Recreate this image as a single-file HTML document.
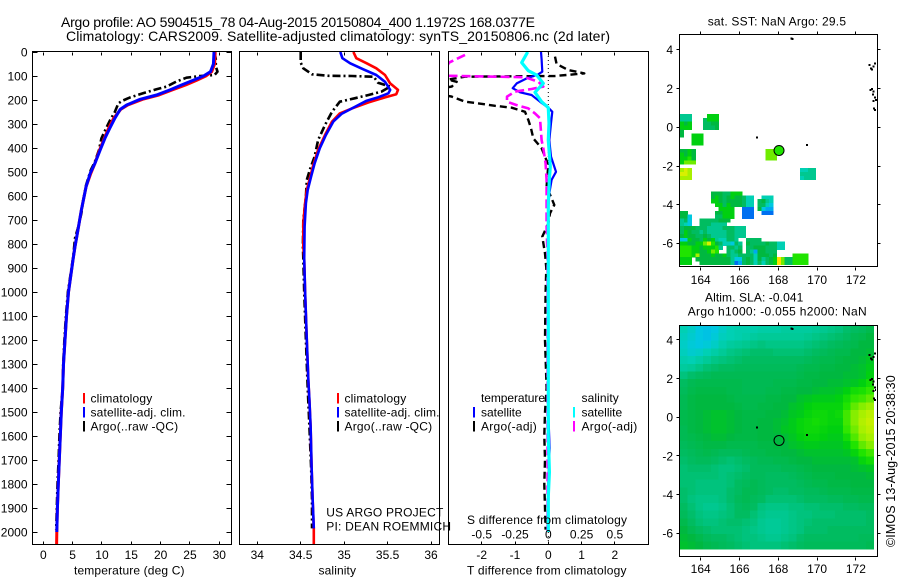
<!DOCTYPE html>
<html lang="en">
<head>
<meta charset="utf-8">
<title>Argo profile 5904515_78</title>
<style>
html,body{margin:0;padding:0;background:#fff;}
svg{display:block;font-family:"Liberation Sans",sans-serif;font-size:12px;fill:#000;}
.frame{fill:none;stroke:#000;stroke-width:1;shape-rendering:crispEdges;}
.line{fill:none;stroke-linejoin:round;}
.mk{shape-rendering:crispEdges;}
</style>
</head>
<body>
<svg id="chart" width="900" height="580" viewBox="0 0 900 580" xmlns="http://www.w3.org/2000/svg">
<defs>
<clipPath id="clip1"><rect x="32.5" y="52" width="199" height="493"/></clipPath>
<clipPath id="clip2"><rect x="239.5" y="52" width="200" height="493"/></clipPath>
<clipPath id="clip3"><rect x="448.5" y="52" width="200" height="493"/></clipPath>
<clipPath id="clipM1"><rect x="679.5" y="34.5" width="198" height="232.5"/></clipPath>
<clipPath id="clipM2"><rect x="679.5" y="325.5" width="196.5" height="229.5"/></clipPath>
</defs>

<text x="61" y="27" font-size="14" textLength="474">Argo profile: AO 5904515_78 04-Aug-2015 20150804_400 1.1972S 168.0377E</text>
<text x="66" y="41" font-size="14" textLength="544">Climatology: CARS2009. Satellite-adjusted climatology: synTS_20150806.nc (2d later)</text>

<g id="heat1" clip-path="url(#clipM1)"></g>
<g id="heat2" clip-path="url(#clipM2)"></g>

<g id="marks1" clip-path="url(#clip1)"></g>
<g id="marks2" clip-path="url(#clip2)"></g>
<g id="marks3" clip-path="url(#clip3)"></g>
<g id="ticks"></g>

<rect class="frame" x="32.5" y="51.5" width="199" height="493"/>
<rect class="frame" x="239.5" y="51.5" width="200" height="493"/>
<rect class="frame" x="448.5" y="51.5" width="200" height="493"/>
<rect class="frame" x="679.5" y="34.5" width="198" height="232"/>
<rect class="frame" x="679.5" y="325.5" width="198" height="231"/>

<text x="74" y="574.5" textLength="110.5">temperature (deg C)</text>
<text x="318.5" y="574.5" textLength="37.5">salinity</text>
<text x="467" y="574.5" textLength="159.5">T difference from climatology</text>
<text x="467" y="524" textLength="160">S difference from climatology</text>

<g>
<rect class="mk" x="83" y="393" width="2" height="10.5" fill="#f00"/>
<rect class="mk" x="83" y="407" width="2" height="10.5" fill="#00f"/>
<rect class="mk" x="83" y="421" width="2" height="10.5" fill="#000"/>
<text x="90.5" y="402.5" textLength="61.7">climatology</text>
<text x="90.5" y="416.5" textLength="95">satellite-adj. clim.</text>
<text x="90.5" y="430.5" textLength="87.6">Argo(..raw -QC)</text>
</g>
<g>
<rect class="mk" x="337" y="393" width="2" height="10.5" fill="#f00"/>
<rect class="mk" x="337" y="407" width="2" height="10.5" fill="#00f"/>
<rect class="mk" x="337" y="421" width="2" height="10.5" fill="#000"/>
<text x="344.5" y="402.5" textLength="61.7">climatology</text>
<text x="344.5" y="416.5" textLength="95">satellite-adj. clim.</text>
<text x="344.5" y="430.5" textLength="87.6">Argo(..raw -QC)</text>
</g>
<text x="326.3" y="516.5" textLength="117">US ARGO PROJECT</text>
<text x="326.3" y="530.5" textLength="124.7">PI: DEAN ROEMMICH</text>

<g>
<text x="481" y="402" textLength="64">temperature</text>
<rect class="mk" x="473" y="407" width="2" height="10.5" fill="#00f"/>
<rect class="mk" x="473" y="421" width="2" height="10.5" fill="#000"/>
<text x="481" y="416.5" textLength="40.7">satellite</text>
<text x="481" y="430.5" textLength="55.7">Argo(-adj)</text>
<text x="581.5" y="402" textLength="37.3">salinity</text>
<rect class="mk" x="573" y="407" width="2" height="10.5" fill="#0ff"/>
<rect class="mk" x="573" y="421" width="2" height="10.5" fill="#f0f"/>
<text x="581.5" y="416.5" textLength="40.7">satellite</text>
<text x="581.5" y="430.5" textLength="55.7">Argo(-adj)</text>
</g>

<text x="707.7" y="25.5" textLength="138.3">sat. SST: NaN Argo: 29.5</text>
<text x="705" y="301.5" textLength="98.3">Altim. SLA: -0.041</text>
<text x="687.7" y="315.5" textLength="179">Argo h1000: -0.055 h2000: NaN</text>
<text transform="translate(895,547) rotate(-90)" font-size="12.5" textLength="171.7">©IMOS 13-Aug-2015 20:38:30</text>
</svg>

<script>
// ---- temperature panel data (deg C vs depth m)
const tempClimDepth = [0,50,82,100,117,137,158,179,197,221,239,276,314,360,408,464,506,561,658,728,811,860,1000,1100,1200,1300,1400,1500,1600,1700,1800,1900,2000,2054];
const tempClim = [29.3,29.2,28.7,27.7,26.2,24.3,22,19.7,16.9,14.4,13.2,12,11.2,10.4,9.6,8.8,8.1,7.3,6.5,6,5.4,5.1,4.3,3.95,3.7,3.45,3.3,3.07,2.9,2.72,2.55,2.4,2.3,2.27];
const tempSatDepth = [0,50,82,100,117,137,158,179,197,221,239,276,314,360,408,464,506,561,658,728,811,860,1000,1100,1200,1300,1400,1500,1600,1700,1800,1900,2000];
const tempSat = [29.1,29,28.5,27.3,25.6,23.6,21.6,19.3,16.5,14.2,13.1,12.2,11.4,10.5,9.7,8.8,8,7.3,6.5,6,5.4,5.1,4.3,3.95,3.7,3.45,3.3,3.07,2.9,2.72,2.55,2.4,2.3];
const tempArgoDepth = [0,30,60,82,96,100,107,123,144,155,172,189,204,214,249,283,318,360,408,457,492,554,617,672,728,776,853,1000,1100,1200,1300,1400,1500,1600,1700,1800,1900,1990];
const tempArgo = [29.2,29.4,29.4,29.7,29.2,26.7,24.4,22.7,21,19.3,17,14.8,13.4,12.8,12.2,11.4,10.7,9.9,9.5,8.8,8.1,7.3,6.8,6.5,5.97,5.4,5.1,4.2,3.85,3.6,3.4,3.3,2.95,2.75,2.6,2.42,2.3,2.2];
// ---- salinity panel data (psu vs depth m)
const salClimDepth = [0,26,47,68,96,131,158,176,189,210,235,256,290,346,408,471,519,575,630,714,811,860,1000,1200,1365,1450,1560,1730,1860,1985,2054];
const salClim = [35.106,35.14,35.26,35.37,35.47,35.53,35.62,35.6,35.47,35.28,35.09,34.95,34.86,34.78,34.7,34.645,34.61,34.57,34.55,34.53,34.53,34.54,34.55,34.57,34.587,34.6,34.614,34.625,34.637,34.65,34.65];
const salSatDepth = [0,26,47,72,96,124,158,172,189,203,235,258,290,346,401,464,519,575,630,728,860,1000,1200,1365,1450,1560,1730,1860,1985];
const salSat = [34.956,34.98,35.07,35.22,35.37,35.47,35.53,35.51,35.39,35.26,35.09,34.97,34.875,34.79,34.72,34.66,34.62,34.58,34.56,34.545,34.54,34.55,34.57,34.587,34.6,34.614,34.625,34.637,34.65];
const salArgoDepth = [0,44,68,93,99,100,103,128,144,165,179,193,207,249,304,367,436,485,533,603,700,811,860,1000,1200,1400,1560,1730,1860,1985];
const salArgo = [34.5,34.5,34.53,34.63,34.82,35.09,35.34,35.39,35.53,35.43,35.28,35.12,34.95,34.86,34.78,34.7,34.66,34.61,34.57,34.56,34.53,34.525,34.53,34.54,34.56,34.58,34.6,34.62,34.63,34.63];
// ---- difference panel data
const dTSatDepth = [0,30,82,93,110,131,151,168,179,207,232,249,297,367,436,499,533,589,650,1000,1500,1650,1800,2000];
const dTSat = [-0.22,-0.2,-0.18,-0.3,-0.65,-0.95,-1.07,-0.85,-0.5,-0.25,0,0.12,0.08,0.03,0.08,0.23,0.1,0.03,0,0,0,0.04,0,0];
const dTArgoDepth = [19,50,75,89,92,100,101,103,115,124,144,160,178,186,207,214,224,232,249,283,318,360,401,436,471,561,610,637,672,715,769,839,900,1000,1200,1400,1500,1600,1700,1800,1900,1990];
const dTArgo = [0.2,0.25,0.6,1.08,0.85,0.2,-0.6,-2.5,-3,-2.75,-2.9,-3.6,-3.2,-2.9,-2.5,-2.1,-1.6,-1.1,-0.7,-0.6,-0.52,-0.45,-0.2,-0.1,0,-0.05,0.1,0.18,0.05,0,-0.18,-0.1,-0.06,-0.08,-0.1,-0.05,-0.1,-0.12,-0.1,-0.12,-0.1,-0.08];
const dSSatDepth = [0,44,78,96,131,168,207,232,297,367,478,533,630,1000,1600,1750,1850,2000];
const dSSat = [-0.155,-0.2,-0.15,-0.0875,-0.0375,-0.1,-0.05,0,0.005,0,0.015,0.0075,0,0,0,0.008,0,0];
const dSArgoDepth = [12,44,96,99,105,124,144,154,165,186,207,221,235,256,276,367,401,464,533,630,728,860,1200,2000];
const dSArgo = [-0.625,-0.745,-0.8,-0.75,-0.175,-0.075,-0.0375,-0.125,-0.25,-0.31,-0.31,-0.24,-0.15,-0.1,-0.0625,-0.05,-0.0375,-0.02,-0.0125,-0.0125,-0.0125,-0.005,-0.005,-0.005];
// ---- tick values
const depthTicks = [0,100,200,300,400,500,600,700,800,900,1000,1100,1200,1300,1400,1500,1600,1700,1800,1900,2000];
const tempTicks = [0,5,10,15,20,25,30];
const salTicks = [34,34.5,35,35.5,36];
const dTTicks = [-2,-1,0,1,2];
const dSTicks = [-0.5,-0.25,0,0.25,0.5];
const lonTicks = [164,166,168,170,172];
const latTicks = [4,2,0,-2,-4,-6];
// ---- profile position
const argoLon = [168.0377];
const argoLat = [-1.1972];
const satSstAtArgo = [8];
// ---- small islands
const landLon = [168.69,168.74,166.89,169.49,172.69,172.78,172.9,172.98,172.84,172.76,172.9,172.98,172.9,173.04,172.93,172.98,172.82,172.88];
const landLat = [4.6,4.56,-0.54,-0.91,3.22,3.05,3.13,3.31,3.0,1.93,1.84,1.55,1.37,1.41,0.98,0.89,1.98,1.7];
// ---- SST map: colour level per 0.2 degree cell, rows from the north, null where cloudy
const _ = null;
const sstRows = [
[4,4,4,_,_,_,_,7,7,7],
[4,4,4,_,_,_,5,7,7,7],
[7,6,7,_,_,_,5,5,6,6],
[7,7,7,_,_,_,5,5,5,6],
[6],
[6,_,_,7,7,7],
[_,_,_,7,7,7],
[_,_,_,7,7,7],
[],
[6,6,7,6,_,_,_,_,_,_,_,_,_,_,_,_,_,_,_,_,_,_,9,9,9],
[7,6,7,6,_,_,_,_,_,_,_,_,_,_,_,_,_,_,_,_,_,_,9,9,9],
[7,7,8,6,_,_,_,_,_,_,_,_,_,_,_,_,_,_,_,_,_,_,9,9,9],
[7,9,9,9],
[],
[10,11,10,_,_,_,_,_,_,_,_,_,_,_,_,_,_,_,_,_,_,_,_,_,_,_,_,_,_,_,_,3,3,4,4],
[11,11,10,_,_,_,_,_,_,_,_,_,_,_,_,_,_,_,_,_,_,_,_,_,_,_,_,_,_,_,_,4,4,4,4],
[10,10,10,_,_,_,_,_,_,_,_,_,_,_,_,_,_,_,_,_,_,_,_,_,_,_,_,_,_,_,_,3,4,4,4],
[],
[],
[],
[_,_,_,_,_,_,_,_,6,6,6,5,5,7,7,7],
[_,_,_,_,_,_,_,_,6,7,6,5,6,7,6,6,5,3,3,_,_,3,3,3],
[_,_,_,_,_,_,_,_,7,7,6,5,6,6,6,6,5,3,3,_,5,6,4,3],
[_,_,_,_,_,_,_,_,_,7,7,5,7,6,6,6,5,3,3,_,5,5,3,2],
[_,_,_,_,_,_,_,_,_,_,7,7,7,7,_,_,0,0,0,_,6,2,1,1],
[6,6,_,_,_,_,_,_,_,6,6,7,7,7,_,_,0,0,0,_,_,0,0,0],
[6,6,2,_,_,_,_,_,_,5,5,7,7,7,_,_,0,0,0],
[4,5,2,_,_,5,5,5,5,5,6,6,6],
[4,3,2,_,_,5,5,5,4,4,4,4],
[5,6,6,6,5,5,5,4,4,4,4,5,5,5,4,4,4],
[5,7,6,5,5,4,5,4,4,4,4,4,5,5,4,4,4],
[6,7,6,6,5,5,6,5,4,4,4,4,5,5,4,4,4],
[2,2,7,6,6,5,7,6,7,4,3,3,5,5,4,_,_,5,5,5,5],
[7,7,6,6,7,7,9,11,8,6,5,3,3,2,5,4,_,6,5,5,5,5,6,5,5,3,3],
[8,8,8,7,7,6,7,7,7,8,4,_,5,5,4,5,_,5,5,6,6,6,5,5,5,3,3],
[8,8,8,7,7,6,6,7,9,8,_,_,5,4,5,6,_,5,4,1,6,6,5,5,5],
[8,8,8,7,10,6,6,6,7,6,6,7,5,4,4,5,5,5,5,3,6,6,6,5,6,_,_,_,_,8,8,8,8],
[7,7,7,_,6,6,6,6,6,6,6,6,6,4,2,2,5,6,5,3,6,4,5,6,7,12,9,5,5,8,8,8,8],
[7,7,7,_,_,6,6,6,6,6,6,6,6,4,0,1,5,6,5,3,5,3,5,6,7,12,9,5,5,8,8,8,8]
];
// ---- SLA map: sea level anomaly in cm per 0.4 degree cell, rows from the north
const slaRows = [
[-15,-17,-20,-21,-20,-17,-15,-14,-14,-14,-13,-13,-13,-12,-12,-12,-12,-11,-10,-9,-8,-6,-5,-4,-2],
[-16,-18,-20,-21,-19,-16,-15,-14,-13,-12,-11,-11,-11,-11,-11,-11,-10,-9,-8,-7,-6,-5,-3,-2,0],
[-17,-19,-20,-19,-17,-14,-12,-11,-10,-9,-8,-9,-9,-9,-9,-9,-8,-7,-6,-5,-4,-3,-2,0,0],
[-16,-18,-17,-15,-13,-11,-9,-8,-7,-6,-6,-6,-7,-7,-7,-7,-6,-5,-4,-3,-2,-2,0,0,1],
[-14,-15,-13,-11,-9,-8,-7,-6,-5,-5,-5,-5,-5,-5,-5,-5,-4,-3,-2,-2,-1,0,0,1,3],
[-12,-11,-9,-7,-6,-5,-5,-4,-4,-4,-4,-4,-4,-4,-4,-3,-2,-2,-1,-1,0,0,1,2,4],
[-8,-6,-5,-4,-3,-3,-3,-3,-3,-3,-3,-3,-3,-3,-3,-2,-1,-1,0,0,0,1,1,2,5],
[-5,-3,-2,-2,-2,-2,-2,-2,-3,-3,-3,-3,-2,-2,-2,-1,-1,0,0,1,1,2,3,5,8],
[-4,-2,-1,-1,-1,-1,-2,-2,-3,-3,-3,-2,-2,-1,-1,0,0,1,2,2,3,5,8,9,11],
[-3,-1,0,0,0,0,-1,-2,-2,-2,-2,-1,-1,0,0,2,3,4,4,4,5,8,11,12,14],
[-3,-1,0,0,0,0,0,-1,-2,-2,-1,-1,0,0,2,3,5,6,6,6,6,10,14,17,19],
[-2,-1,0,1,2,2,1,0,-1,-1,-1,0,0,1,3,4,6,7,7,6,7,12,17,20,22],
[-2,-1,0,1,2,2,1,0,-1,-1,0,0,1,2,4,6,7,8,7,6,6,12,17,21,23],
[-3,-1,0,1,2,2,1,0,-1,-1,0,0,1,3,4,6,7,7,6,5,5,11,15,20,22],
[-3,-2,-1,0,1,1,0,-1,-1,-1,0,0,0,1,3,5,6,6,5,4,4,8,13,18,20],
[-4,-3,-2,-1,-1,-1,-2,-2,-2,-2,-1,-1,0,0,2,3,4,4,3,3,3,5,10,14,17],
[-5,-4,-3,-2,-3,-4,-4,-4,-3,-2,-2,-1,-1,0,0,1,2,2,2,2,2,3,6,10,12],
[-6,-5,-4,-4,-5,-6,-7,-6,-5,-4,-3,-3,-2,-2,-1,0,0,1,1,1,1,1,2,6,8],
[-7,-6,-6,-6,-7,-8,-8,-7,-6,-4,-4,-4,-4,-3,-3,-2,-1,0,0,0,0,0,1,2,3],
[-7,-7,-7,-7,-7,-8,-7,-6,-5,-4,-4,-5,-5,-5,-4,-3,-2,-1,-1,-1,0,0,0,0,1],
[-7,-7,-8,-8,-8,-8,-7,-5,-4,-3,-4,-5,-5,-5,-5,-4,-3,-2,-2,-1,-1,-1,0,0,0],
[-6,-7,-8,-8,-8,-8,-6,-5,-3,-3,-4,-5,-6,-6,-5,-5,-4,-4,-3,-2,-2,-2,-1,-1,-1],
[-6,-8,-9,-9,-9,-8,-6,-4,-3,-4,-5,-7,-7,-7,-7,-6,-5,-5,-5,-4,-4,-3,-3,-2,-2],
[-5,-7,-9,-10,-10,-9,-7,-5,-4,-5,-8,-9,-9,-9,-8,-8,-7,-7,-6,-6,-6,-5,-5,-4,-4],
[-4,-6,-8,-9,-9,-8,-7,-5,-5,-7,-9,-10,-10,-10,-9,-8,-8,-7,-7,-7,-6,-6,-6,-6,-5],
[-2,-5,-7,-8,-8,-7,-6,-6,-7,-8,-10,-11,-11,-10,-9,-8,-7,-6,-6,-6,-6,-6,-6,-6,-5],
[0,-3,-5,-6,-7,-7,-7,-7,-8,-9,-10,-11,-11,-10,-9,-8,-6,-6,-6,-5,-5,-5,-5,-5,-5],
[1,0,-2,-4,-5,-5,-6,-7,-8,-8,-9,-10,-10,-9,-8,-6,-5,-5,-5,-5,-5,-5,-5,-4,-4],
[2,1,0,-2,-3,-4,-5,-6,-7,-8,-8,-8,-8,-7,-6,-5,-4,-4,-4,-4,-4,-4,-4,-4,-3]
];

const NS = 'http://www.w3.org/2000/svg';
const yD = d => 52 + 0.24 * d;
const xT = t => 43.3 + 5.867 * t;
const xS = s => 257.3 + 86.85 * (s - 34);
const xDT = t => 548.3 + 33.3 * t;
const xDS = s => 548.3 + 133.2 * s;
const xLon = lon => 700.7 + 19.4 * (lon - 164);
const yLat1 = lat => 127.3 - 19.35 * lat;
const yLat2 = lat => 417.3 - 19.33 * lat;
const sstRowLat = r => 0.687 - 0.2 * r;
const sstColLon = c => 162.93 + 0.2 * c;
const slaRowLat = r => 4.77 - 0.4 * r;
const slaColLon = c => 162.93 + 0.4 * c;

function mk(tag, attrs, parent) {
  const el = document.createElementNS(NS, tag);
  for (const k in attrs) el.setAttribute(k, attrs[k]);
  parent.appendChild(el);
  return el;
}
const stops = [[0,0,112,240],[1,0,168,240],[2,0,200,224],[3,0,208,180],[4,0,200,144],[5,0,188,96],[6,0,184,64],[7,0,208,16],[8,32,228,0],[9,112,236,0],[10,168,240,0],[11,216,240,0],[12,255,224,0]];
function levelColor(v) {
  const x = Math.max(0, Math.min(12, v));
  const i = Math.min(11, Math.floor(x));
  const f = x - i, a = stops[i], b = stops[i + 1];
  return 'rgb(' + [1,2,3].map(j => Math.round(a[j] + (b[j] - a[j]) * f)).join(',') + ')';
}
const slaLevel = cm => 6 + cm / 5;

// heatmaps
const heat1 = document.getElementById('heat1');
sstRows.forEach((row, r) => row.forEach((v, c) => {
  if (v === null) return;
  const x0 = xLon(sstColLon(c)), x1 = xLon(sstColLon(c + 1)), y0 = yLat1(sstRowLat(r)), y1 = yLat1(sstRowLat(r + 1));
  const el = mk('rect', {x: x0, y: y0, width: x1 - x0 + 0.3, height: y1 - y0 + 0.3, fill: levelColor(v), 'shape-rendering': 'crispEdges'}, heat1);
  
  
}));
const heat2 = document.getElementById('heat2');
slaRows.forEach((row, r) => row.forEach((v, c) => {
  const x0 = xLon(slaColLon(c)), x1 = xLon(slaColLon(c + 1)), y0 = yLat2(slaRowLat(r)), y1 = yLat2(slaRowLat(r + 1));
  const el = mk('rect', {x: x0, y: y0, width: x1 - x0 + 0.3, height: y1 - y0 + 0.3, fill: levelColor(slaLevel(v)), 'shape-rendering': 'crispEdges'}, heat2);
  
  
}));
// land specks and profile marker on each map
[[heat1, yLat1], [heat2, yLat2]].forEach(([g, yf]) => {
  landLon.forEach((lon, i) => {
    const el = mk('rect', {x: xLon(lon) - 1, y: yf(landLat[i]) - 1, width: 2, height: 2, fill: '#000', 'shape-rendering': 'crispEdges'}, g);
    
    
  });
});
const dot1 = mk('circle', {cx: xLon(argoLon[0]), cy: yLat1(argoLat[0]), r: 5, fill: levelColor(satSstAtArgo[0]), stroke: '#000', 'stroke-width': 1}, heat1);


const dot2 = mk('circle', {cx: xLon(argoLon[0]), cy: yLat2(argoLat[0]), r: 5, fill: 'none', stroke: '#000', 'stroke-width': 1}, heat2);



// profile lines
function pts(values, depths, xf) {
  return values.map((v, i) => xf(v).toFixed(1) + ',' + yD(depths[i]).toFixed(1)).join(' ');
}
const g1 = document.getElementById('marks1');
const l1a = mk('polyline', {class: 'line', points: pts(tempArgo, tempArgoDepth, xT), stroke: '#000', 'stroke-width': 2.6, 'stroke-dasharray': '8 3 2 3'}, g1);


const l1c = mk('polyline', {class: 'line', points: pts(tempClim, tempClimDepth, xT), stroke: '#f00', 'stroke-width': 3}, g1);


const l1s = mk('polyline', {class: 'line', points: pts(tempSat, tempSatDepth, xT), stroke: '#00f', 'stroke-width': 3}, g1);



const g2 = document.getElementById('marks2');
const l2a = mk('polyline', {class: 'line', points: pts(salArgo, salArgoDepth, xS), stroke: '#000', 'stroke-width': 2.6, 'stroke-dasharray': '8 3 2 3'}, g2);


const l2c = mk('polyline', {class: 'line', points: pts(salClim, salClimDepth, xS), stroke: '#f00', 'stroke-width': 2.6}, g2);


const l2s = mk('polyline', {class: 'line', points: pts(salSat, salSatDepth, xS), stroke: '#00f', 'stroke-width': 2.6}, g2);



const g3 = document.getElementById('marks3');
const zero = mk('line', {x1: xDT(0), x2: xDT(0), y1: yD(0), y2: yD(2054), stroke: '#000', 'stroke-width': 1, 'stroke-dasharray': '1 3'}, g3);


const l3a = mk('polyline', {class: 'line', points: pts(dTArgo, dTArgoDepth, xDT), stroke: '#000', 'stroke-width': 2.4, 'stroke-dasharray': '7 4'}, g3);


const l3s = mk('polyline', {class: 'line', points: pts(dTSat, dTSatDepth, xDT), stroke: '#00f', 'stroke-width': 2.2}, g3);


const l3m = mk('polyline', {class: 'line', points: pts(dSArgo, dSArgoDepth, xDS), stroke: '#f0f', 'stroke-width': 2.6, 'stroke-dasharray': '9 4'}, g3);


const l3c = mk('polyline', {class: 'line', points: pts(dSSat, dSSatDepth, xDS), stroke: '#0ff', 'stroke-width': 3.2}, g3);



// axes
const T = document.getElementById('ticks');
function tick(x1, y1, x2, y2) {
  const el = mk('line', {x1: Math.round(x1 - 0.5) + 0.5, y1: Math.round(y1 - 0.5) + 0.5, x2: Math.round(x2 - 0.5) + 0.5, y2: Math.round(y2 - 0.5) + 0.5, stroke: '#000', 'stroke-width': 1, 'shape-rendering': 'crispEdges'}, T);
  
  
}
function label(str, x, y, anchor) {
  const el = mk('text', {x: x, y: y, 'text-anchor': anchor}, T);
  el.textContent = str;
  
  
}
depthTicks.forEach(d => {
  tick(32.5, yD(d), 37.5, yD(d));
  tick(226.5, yD(d), 231.5, yD(d));
  label(String(d), 27.5, yD(d) + 4.3, 'end');
});
tempTicks.forEach(t => {
  tick(xT(t), 52, xT(t), 55);
  tick(xT(t), 544, xT(t), 541);
  label(String(t), xT(t), 559, 'middle');
});
salTicks.forEach(s => {
  tick(xS(s), 52, xS(s), 55);
  tick(xS(s), 544, xS(s), 541);
  label(String(s), xS(s), 559, 'middle');
});
dTTicks.forEach(t => {
  tick(xDT(t), 52, xDT(t), 55);
  tick(xDT(t), 544, xDT(t), 541);
  label(String(t), xDT(t), 559, 'middle');
});
dSTicks.forEach(s => {
  label(String(s), xDS(s), 538.5, 'middle');
});
lonTicks.forEach(lon => {
  [[34.5, 267, 284], [325.5, 557, 573]].forEach(([top, bot, base]) => {
    tick(xLon(lon), top, xLon(lon), top - 3);
    tick(xLon(lon), bot, xLon(lon), bot + 3);
    label(String(lon), xLon(lon), base, 'middle');
  });
});
latTicks.forEach(lat => {
  [yLat1, yLat2].forEach(yf => {
    tick(679.5, yf(lat), 676.5, yf(lat));
    tick(877.5, yf(lat), 880.5, yf(lat));
    label(String(lat), 673, yf(lat) + 4.3, 'end');
  });
});
</script>
</body>
</html>
